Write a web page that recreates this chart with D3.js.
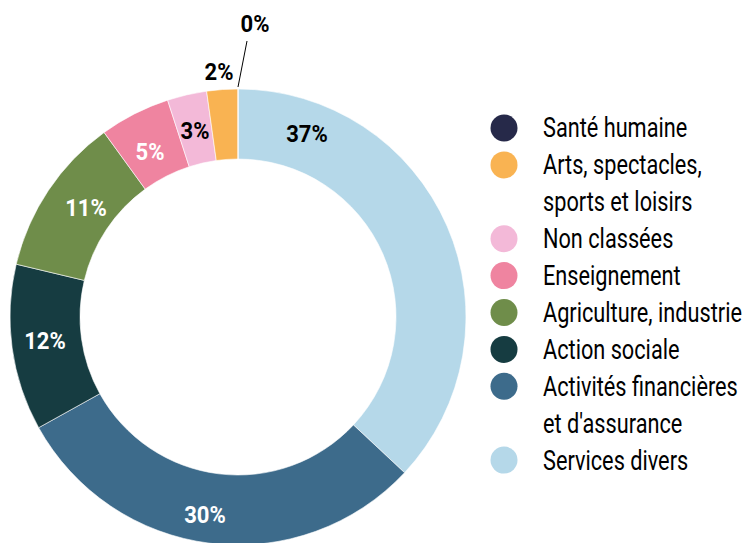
<!DOCTYPE html>
<html><head><meta charset="utf-8">
<script src="https://cdn.jsdelivr.net/npm/d3@7"></script>
<style>body{margin:0;background:#fff}svg{display:block}</style>
</head><body>
<script>
const categories = ["Santé humaine","Arts, spectacles, sports et loisirs","Non classées","Enseignement","Agriculture, industrie","Action sociale","Activités financières et d'assurance","Services divers"];
const legendLines = [["Santé humaine"],["Arts, spectacles,","sports et loisirs"],["Non classées"],["Enseignement"],["Agriculture, industrie"],["Action sociale"],["Activités financières","et d'assurance"],["Services divers"]];
const values = [0, 2.2, 2.8, 5, 11.3, 11.8, 30, 37];
const colors = ["#262949","#f9b352","#f3b9d8","#ef84a0","#6f8d4a","#163c41","#3d6b8b","#b5d8e9"];
const labelColors = ["#000","#000","#000","#fff","#fff","#fff","#fff","#000"];

const W=746,H=543, cx=238, cy=317, R=228, r0=158;
const font = "Roboto, 'Liberation Sans', sans-serif";
const svg = d3.select("body").append("svg").attr("width",W).attr("height",H);

const order = d3.range(values.length).reverse();
const pie = d3.pie().sort(null).value(i=>values[i]);
const arcs = pie(order);
const arc = d3.arc().innerRadius(r0).outerRadius(R);
const g = svg.append("g").attr("transform",`translate(${cx},${cy})`);
g.selectAll("path").data(arcs).join("path")
  .attr("d",arc).attr("fill",d=>colors[d.data]).attr("stroke","#fff").attr("stroke-width",0.6);

const labelPos = {7:[69,-183],6:[-33,198],5:[-193,24],4:[-152,-109],3:[-88,-165],2:[-43,-186],1:[-19,-245],0:[17,-293]};
arcs.forEach(d=>{
  const i=d.data;
  const p = labelPos[i] || arc.centroid(d);
  g.append("g").attr("transform",`translate(${p[0]},${p[1]}) scale(0.9,1)`)
   .append("text").attr("x",0).attr("y",0).attr("text-anchor","middle")
    .attr("dominant-baseline","central")
    .attr("font-family",font).attr("font-weight","bold").attr("font-size",24.5)
    .attr("fill",labelColors[i]).text(Math.round(values[i])+"%");
});
g.append("line").attr("x1",0).attr("y1",-R-2).attr("x2",9).attr("y2",-276)
  .attr("stroke","#000").attr("stroke-width",1);

const lg = svg.append("g");
let y = 128;
legendLines.forEach((lines,i)=>{
  lg.append("circle").attr("cx",504).attr("cy",y).attr("r",13.5).attr("fill",colors[i]);
  lines.forEach((t,k)=>{
    lg.append("g").attr("transform",`translate(543,${y+k*36.9}) scale(0.79,1)`)
      .append("text").attr("x",0).attr("y",0).attr("dominant-baseline","central")
      .attr("font-family",font).attr("font-size",27.5).attr("fill","#000").text(t);
  });
  y += lines.length*36.9;
});
</script>
</body></html>
